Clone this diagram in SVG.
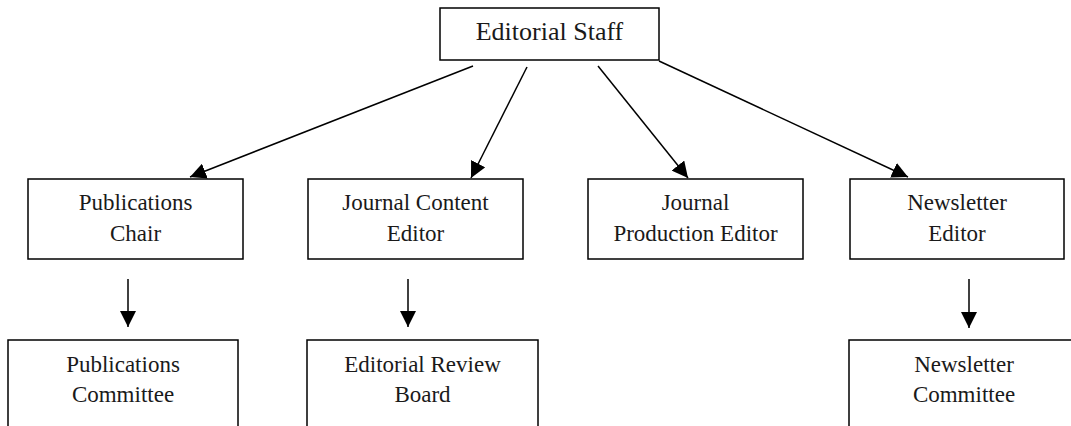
<svg xmlns="http://www.w3.org/2000/svg" width="1071" height="426" viewBox="0 0 1071 426">
<style>
.box{fill:#fff;stroke:#000;stroke-width:1.5}
.t{font-family:"Liberation Serif","Times New Roman",serif;font-size:23px;fill:#1a1a1a;text-anchor:middle}
.big{font-size:26px}
.c{stroke:#000;stroke-width:1.5;fill:none;marker-end:url(#ah)}
</style>
<defs>
<marker id="ah" markerUnits="userSpaceOnUse" markerWidth="16" markerHeight="16" refX="16" refY="8" orient="auto">
<path d="M0,0 L16,8 L0,16 Z" fill="#000"/>
</marker>
<filter id="sh" x="-20%" y="-50%" width="150%" height="250%">
<feDropShadow dx="2" dy="3" stdDeviation="2" flood-color="#000" flood-opacity="0.35"/>
</filter>
</defs>
<g id="connectors">
<line class="c" x1="473" y1="66" x2="190" y2="177"/>
<line class="c" x1="527" y1="67" x2="471" y2="178"/>
<line class="c" x1="598" y1="66" x2="688" y2="178"/>
<line class="c" x1="659" y1="61" x2="908" y2="177"/>
<line class="c" x1="528" y1="219" x2="588" y2="219" filter="url(#sh)"/>
<line class="c" x1="128" y1="279" x2="128" y2="327"/>
<line class="c" x1="408" y1="279" x2="408" y2="327"/>
<line class="c" x1="969" y1="279" x2="969" y2="328"/>
</g>
<g id="editorial-staff">
<rect class="box" x="440" y="8" width="219" height="52"/>
<text class="t big" x="549.5" y="40">Editorial Staff</text>
</g>
<g id="publications-chair">
<rect class="box" x="28" y="179" width="215" height="80"/>
<text class="t" x="135.5" y="210">Publications</text>
<text class="t" x="135.5" y="241">Chair</text>
</g>
<g id="journal-content-editor">
<rect class="box" x="308" y="179" width="215" height="80"/>
<text class="t" x="415.5" y="210">Journal Content</text>
<text class="t" x="415.5" y="241">Editor</text>
</g>
<g id="journal-production-editor">
<rect class="box" x="588" y="179" width="215" height="80"/>
<text class="t" x="695.5" y="210">Journal</text>
<text class="t" x="695.5" y="241">Production Editor</text>
</g>
<g id="newsletter-editor">
<rect class="box" x="850" y="179" width="214" height="80"/>
<text class="t" x="957" y="210">Newsletter</text>
<text class="t" x="957" y="241">Editor</text>
</g>
<g id="publications-committee">
<rect class="box" x="8" y="340" width="230" height="100"/>
<text class="t" x="123" y="372">Publications</text>
<text class="t" x="123" y="402">Committee</text>
</g>
<g id="editorial-review-board">
<rect class="box" x="307" y="340" width="231" height="100"/>
<text class="t" x="422.5" y="372">Editorial Review</text>
<text class="t" x="422.5" y="402">Board</text>
</g>
<g id="newsletter-committee">
<rect class="box" x="849" y="340" width="230" height="100"/>
<text class="t" x="964" y="372">Newsletter</text>
<text class="t" x="964" y="402">Committee</text>
</g>
</svg>
